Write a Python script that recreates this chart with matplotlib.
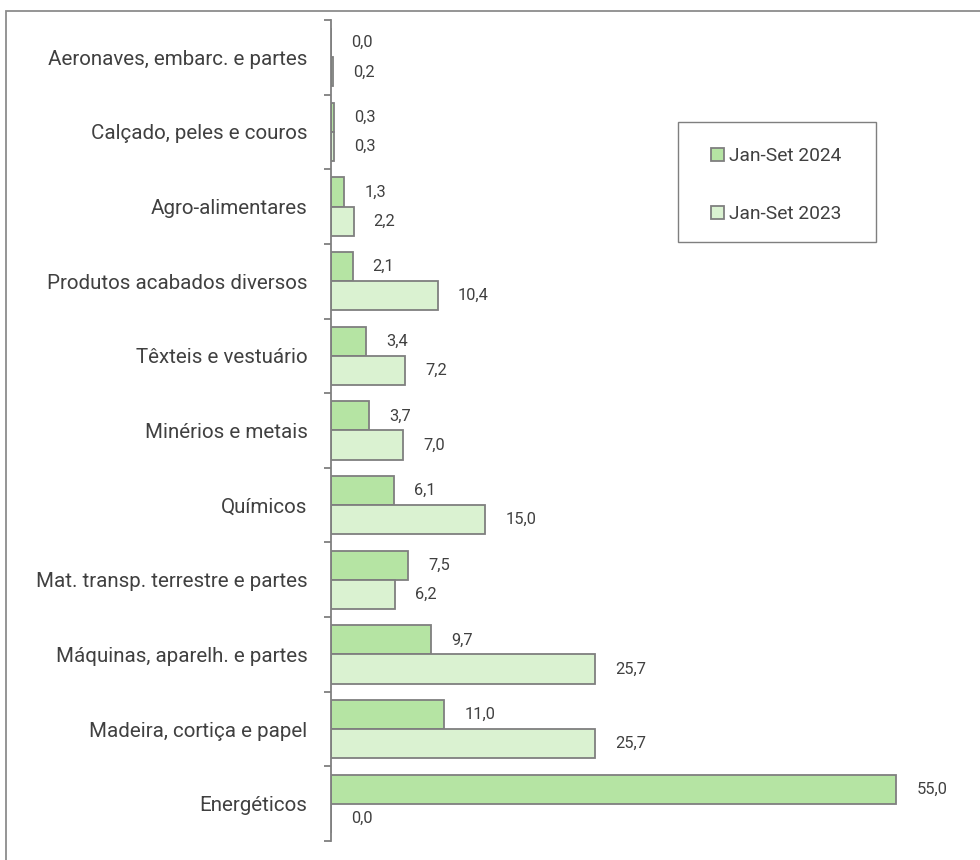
import matplotlib
matplotlib.use("Agg")
import matplotlib.pyplot as plt
import numpy as np
from matplotlib.patches import Rectangle

categories = ["Aeronaves, embarc. e partes", "Calçado, peles e couros", "Agro-alimentares",
              "Produtos acabados diversos", "Têxteis e vestuário", "Minérios e metais",
              "Químicos", "Mat. transp. terrestre e partes", "Máquinas, aparelh. e partes",
              "Madeira, cortiça e papel", "Energéticos"]
v2024 = [0.0, 0.3, 1.3, 2.1, 3.4, 3.7, 6.1, 7.5, 9.7, 11.0, 55.0]
v2023 = [0.2, 0.3, 2.2, 10.4, 7.2, 7.0, 15.0, 6.2, 25.7, 25.7, 0.0]
series_names = ["Jan-Set 2024", "Jan-Set 2023"]

plt.rcParams['font.family'] = ['Roboto', 'DejaVu Sans']
W, H = 980, 860
fig = plt.figure(figsize=(W/100, H/100), dpi=100)
ax = fig.add_axes([331/W, 19/H, (961-331)/W, (840-19)/H])

n = len(categories)
y = np.arange(n)
bh = 0.39
edge = '#7f7f7f'
c24 = '#b5e4a3'
c23 = '#daf2d1'
b1 = ax.barh(y - bh/2, v2024, height=bh, color=c24, edgecolor=edge, linewidth=1.3, label=series_names[0])
b2 = ax.barh(y + bh/2, v2023, height=bh, color=c23, edgecolor=edge, linewidth=1.3, label=series_names[1])

for bars, vals in ((b1, v2024), (b2, v2023)):
    for rect, v in zip(bars, vals):
        ax.annotate(f"{v:.1f}".replace('.', ','), (rect.get_width(), rect.get_y() + rect.get_height()/2),
                    xytext=(14.5, 0), textcoords='offset points', ha='left', va='center',
                    fontsize=11.8, color='#404040')

ax.set_ylim(n - 0.5, -0.5)
ax.set_xlim(0, 61.3)
ax.set_yticks(y)
ax.set_yticklabels(categories, fontsize=14.8, color='#404040')
ax.set_yticks(np.arange(n + 1) - 0.5, minor=True)
ax.tick_params(axis='y', which='major', length=0, pad=17)
ax.tick_params(axis='y', which='minor', length=5, width=1.3, color=edge, direction='out')
ax.set_xticks([])
for s in ('top', 'right', 'bottom'):
    ax.spines[s].set_visible(False)
ax.spines['left'].set_color(edge)
ax.spines['left'].set_linewidth(1.3)

# legend box frame
fig.patches.append(Rectangle((678/W, 1 - 242/H), 198/W, 120/H, transform=fig.transFigure,
                             fill=False, edgecolor='#7f7f7f', linewidth=1.0))
leg = fig.legend(loc='upper left', bbox_to_anchor=(711/W, 1 - 147/H), fontsize=13.8,
                 frameon=False, handlelength=0.7, handleheight=0.7, labelspacing=2.1,
                 borderpad=0, handletextpad=0.25, labelcolor='#404040', borderaxespad=0)

fig.patches.append(Rectangle((6/W, -0.1), 1.2, 1 + 0.1 - 11/H, transform=fig.transFigure,
                             fill=False, edgecolor='#8c8c8c', linewidth=1.3))

fig.savefig("out.png", dpi=100)
